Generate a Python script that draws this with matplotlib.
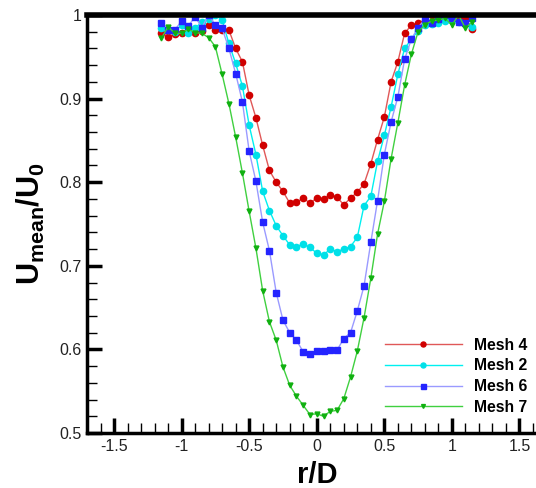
import matplotlib
matplotlib.use("Agg")
import matplotlib.pyplot as plt
import numpy as np
from matplotlib.ticker import MultipleLocator

plt.rcParams["font.family"] = ["Liberation Sans", "DejaVu Sans"]
plt.rcParams["mathtext.fontset"] = "custom"
plt.rcParams["mathtext.rm"] = "Liberation Sans"
plt.rcParams["mathtext.bf"] = "Liberation Sans:bold"

# r/D positions, every 0.05 from -1.15 to 1.15
r_d = np.round(np.arange(-1.15, 1.1501, 0.05), 2)

mesh4 = [0.979, 0.974, 0.977, 0.978, 0.980, 0.979, 0.981, 0.988, 0.982, 0.982,
         0.982, 0.960, 0.944, 0.904, 0.877, 0.844, 0.814, 0.800, 0.789, 0.775,
         0.776, 0.781, 0.775, 0.781, 0.780, 0.785, 0.782, 0.773, 0.781, 0.788,
         0.798, 0.822, 0.851, 0.878, 0.920, 0.944, 0.978, 0.988, 0.990, 0.993,
         1.000, 1.000, 0.998, 0.996, 0.997, 0.997, 0.983]
mesh2 = [0.985, 0.982, 0.980, 0.988, 0.979, 0.984, 0.992, 0.995, 1.000, 0.994,
         0.966, 0.942, 0.915, 0.868, 0.833, 0.789, 0.766, 0.748, 0.736, 0.725,
         0.723, 0.726, 0.722, 0.715, 0.713, 0.720, 0.717, 0.720, 0.723, 0.734,
         0.772, 0.783, 0.825, 0.856, 0.890, 0.929, 0.960, 0.971, 0.981, 0.988,
         0.989, 0.990, 0.993, 0.994, 0.992, 0.989, 0.986]
mesh6 = [0.991, 0.982, 0.982, 0.993, 0.987, 0.998, 0.985, 1.000, 0.988, 0.984,
         0.960, 0.930, 0.896, 0.837, 0.801, 0.752, 0.718, 0.668, 0.635, 0.620,
         0.611, 0.597, 0.595, 0.598, 0.598, 0.599, 0.599, 0.613, 0.620, 0.646,
         0.676, 0.728, 0.778, 0.833, 0.872, 0.902, 0.947, 0.971, 0.985, 0.995,
         0.991, 0.995, 1.000, 0.997, 0.992, 0.990, 0.996]
mesh7 = [0.972, 0.986, 0.978, 0.978, 0.983, 0.979, 0.978, 0.973, 0.962, 0.929,
         0.894, 0.854, 0.811, 0.765, 0.721, 0.670, 0.633, 0.611, 0.579, 0.557,
         0.544, 0.533, 0.522, 0.523, 0.520, 0.526, 0.527, 0.541, 0.567, 0.598,
         0.638, 0.685, 0.738, 0.777, 0.828, 0.871, 0.916, 0.953, 0.980, 0.988,
         0.993, 0.994, 0.996, 0.988, 1.000, 0.984, 0.992]

series = [
    ("Mesh 4", mesh4, "#e05858", "#d00000", "o", 4.5),
    ("Mesh 2", mesh2, "#00f0f0", "#00e0e8", "o", 4.5),
    ("Mesh 6", mesh6, "#9a9aff", "#2424ff", "s", 4.5),
    ("Mesh 7", mesh7, "#40d040", "#10b010", "v", 3.5),
]

fig = plt.figure(figsize=(5.36, 4.88), dpi=100)
ax = fig.add_axes([87 / 536, 55 / 488, 459.5 / 536, 418 / 488])

for label, vals, lc, mc, mk, ms in series:
    ax.plot(r_d, vals, color=lc, lw=1.0, marker=mk, ms=ms,
            markerfacecolor=mc, markeredgecolor=mc, label=label)

ax.set_xlim(-1.7, 1.7)
ax.set_ylim(0.5, 1.0)
ax.xaxis.set_minor_locator(MultipleLocator(0.1))
ax.yaxis.set_minor_locator(MultipleLocator(0.02))
ax.set_xticks([-1.5, -1, -0.5, 0, 0.5, 1, 1.5])
ax.set_xticklabels(["-1.5", "-1", "-0.5", "0", "0.5", "1", "1.5"])
ax.set_yticks([0.5, 0.6, 0.7, 0.8, 0.9, 1.0])
ax.set_yticklabels(["0.5", "0.6", "0.7", "0.8", "0.9", "1"])

ax.tick_params(which="major", direction="in", length=11, width=2.5,
               labelsize=11.5, pad=4, top=False, right=False,
               labelcolor="#222222")
ax.tick_params(which="minor", direction="in", length=7, width=1,
               top=False, right=False)
for side in ["left", "bottom", "right"]:
    ax.spines[side].set_linewidth(2.5)
ax.spines["top"].set_linewidth(4)

ax.set_xlabel("r/D", fontsize=21, fontweight="bold")
ax.set_ylabel(r"$\mathbf{U_{mean}/U_0}$", fontsize=22)
ax.xaxis.set_label_coords(0.5, -0.066)
ax.yaxis.set_label_coords(-0.087, 0.5)

leg = ax.legend(loc="lower right", bbox_to_anchor=(0.99, 0.01), frameon=False,
                handlelength=4.9, handletextpad=0.8, labelspacing=0.36,
                markerscale=0.8, prop={"weight": "bold", "size": 11.3})

fig.savefig("out.png", dpi=100)
